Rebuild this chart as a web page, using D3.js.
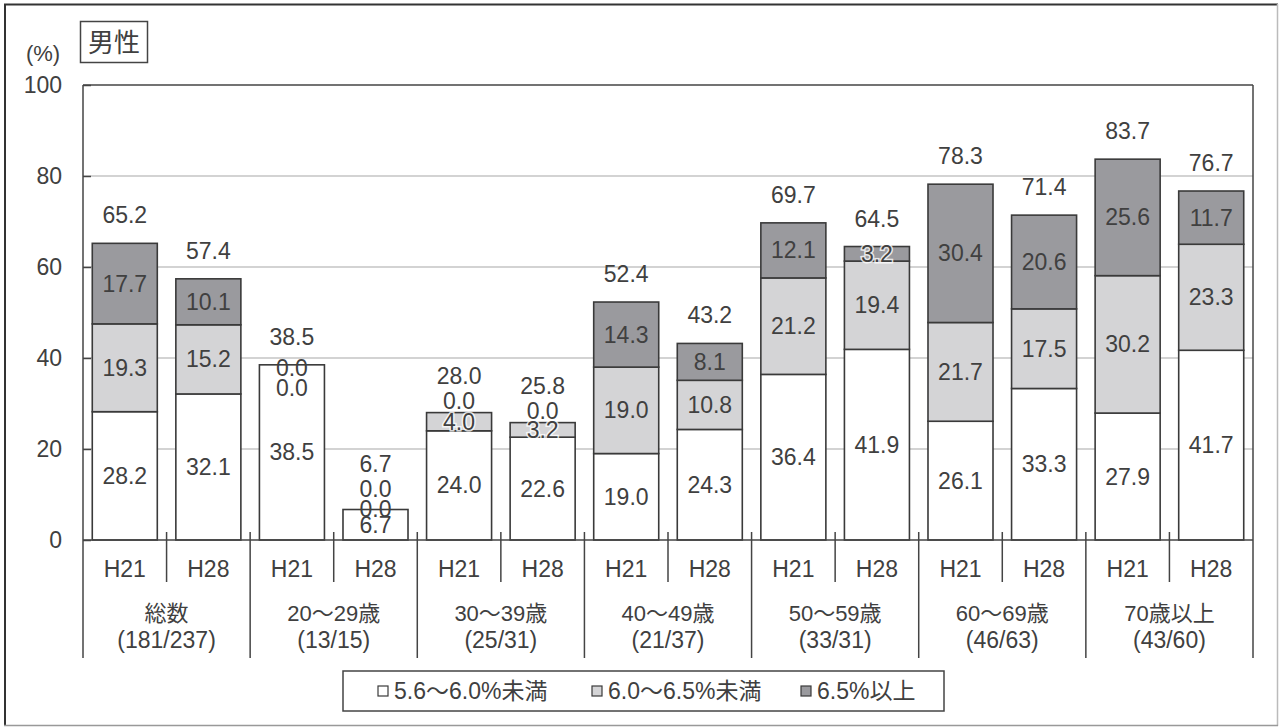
<!DOCTYPE html>
<html><head><meta charset="utf-8">
<script src="https://cdn.jsdelivr.net/npm/d3@7"></script>
<style>
html,body{margin:0;padding:0;background:#fff;}
svg text{font-family:"Liberation Sans",Arial,"Noto Sans CJK JP",sans-serif;fill:#404040;}
</style></head>
<body>
<svg id="chart" width="1279" height="727"></svg>
<script>
const groups = ["総数","20～29歳","30～39歳","40～49歳","50～59歳","60～69歳","70歳以上"];
const groupN = ["(181/237)","(13/15)","(25/31)","(21/37)","(33/31)","(46/63)","(43/60)"];
const years = ["H21","H28"];
const seriesNames = ["5.6～6.0%未満","6.0～6.5%未満","6.5%以上"];
const low  = [28.2,32.1,38.5,6.7,24.0,22.6,19.0,24.3,36.4,41.9,26.1,33.3,27.9,41.7];
const mid  = [19.3,15.2,0.0,0.0,4.0,3.2,19.0,10.8,21.2,19.4,21.7,17.5,30.2,23.3];
const high = [17.7,10.1,0.0,0.0,0.0,0.0,14.3,8.1,12.1,3.2,30.4,20.6,25.6,11.7];
const totals = [65.2,57.4,38.5,6.7,28.0,25.8,52.4,43.2,69.7,64.5,78.3,71.4,83.7,76.7];
const yTicks = [0,20,40,60,80,100];

const colors = ["#ffffff","#d4d4d6","#9a9a9e"];
const ink = "#404040";
const FS = 23;

const svg = d3.select("#chart");
const L = 83, R = 1253, T = 85, B = 540;

// outer frame
svg.append("line").attr("x1",4).attr("x2",1278).attr("y1",4.5).attr("y2",4.5).attr("stroke","#333").attr("stroke-width",2);
svg.append("line").attr("x1",5).attr("x2",5).attr("y1",4).attr("y2",726).attr("stroke","#333").attr("stroke-width",2);
svg.append("line").attr("x1",1277.5).attr("x2",1277.5).attr("y1",4).attr("y2",726).attr("stroke","#bbb").attr("stroke-width",1.5);
svg.append("line").attr("x1",4).attr("x2",1278).attr("y1",725.5).attr("y2",725.5).attr("stroke","#999").attr("stroke-width",1.5);

const rows = low.map((v,i)=>({idx:i, low:v, mid:mid[i], high:high[i], total:totals[i],
  year: years[i%2], group: groups[Math.floor(i/2)]}));
const keys = ["low","mid","high"];
const stacked = d3.stack().keys(keys)(rows);

const x = d3.scaleBand().domain(rows.map(d=>d.idx)).range([L,R]).paddingInner(0.222).paddingOuter(0.111);
const y = d3.scaleLinear().domain([0,100]).range([B,T]);

// gridlines
svg.append("g").selectAll("line").data(yTicks.filter(t=>t>0&&t<100)).join("line")
  .attr("x1",L).attr("x2",R).attr("y1",d=>y(d)).attr("y2",d=>y(d))
  .attr("stroke","#c4c4c4").attr("stroke-width",1.5);

// plot frame (top & right lines)
svg.append("line").attr("x1",L).attr("x2",R).attr("y1",T).attr("y2",T).attr("stroke","#444").attr("stroke-width",1.5);
svg.append("line").attr("x1",R).attr("x2",R).attr("y1",T).attr("y2",658).attr("stroke","#444").attr("stroke-width",1.5);

// y axis
const yAxis = d3.axisLeft(y).tickValues(yTicks).tickSize(-8).tickPadding(20).tickFormat(d3.format("d"));
const gy = svg.append("g").attr("transform",`translate(${L},0)`).call(yAxis);
gy.select(".domain").attr("stroke","#444").attr("stroke-width",1.5).attr("d",`M0,${T}V658`);
gy.selectAll(".tick line").attr("stroke","#444").attr("stroke-width",1.5);
gy.selectAll(".tick text").attr("font-size",FS).attr("fill",ink).attr("x",-21)
  .style("font-family",'"Liberation Sans",Arial,sans-serif');

svg.append("text").attr("x",43).attr("y",61).attr("text-anchor","middle").attr("font-size",22).text("(%)");

// title box
svg.append("rect").attr("x",80.5).attr("y",21.5).attr("width",67).attr("height",41).attr("fill","none").attr("stroke","#444").attr("stroke-width",1.5);
svg.append("text").attr("x",114).attr("y",52).attr("text-anchor","middle").attr("font-size",26)
  .style("font-family",'"Noto Sans CJK JP",sans-serif').text("男性");

// bars
const gBars = svg.append("g");
stacked.forEach((layer,k)=>{
  gBars.append("g").selectAll("rect").data(layer).join("rect")
    .attr("x",d=>x(d.data.idx)).attr("width",x.bandwidth())
    .attr("y",d=>y(d[1])).attr("height",d=>Math.max(0,y(d[0])-y(d[1])))
    .attr("fill",colors[k]).attr("stroke","#3a3a3a").attr("stroke-width",1.6);
});

// x axis line
svg.append("line").attr("x1",L).attr("x2",R).attr("y1",B).attr("y2",B).attr("stroke","#444").attr("stroke-width",1.5);

// x separators
const step = x.step();
rows.forEach((d,i)=>{
  if(i===0) return;
  const xx = x(d.idx) - step*0.111;
  const isGroup = i%2===0;
  svg.append("line").attr("x1",xx).attr("x2",xx).attr("y1",532).attr("y2",isGroup?658:582)
    .attr("stroke","#444").attr("stroke-width",1.5);
});

// year labels
svg.append("g").selectAll("text").data(rows).join("text")
  .attr("x",d=>x(d.idx)+x.bandwidth()/2).attr("y",577).attr("text-anchor","middle")
  .attr("font-size",FS).text(d=>d.year);

// group labels
groups.forEach((g,gi)=>{
  const cx = (x(gi*2) + x(gi*2+1) + x.bandwidth())/2;
  svg.append("text").attr("x",cx).attr("y",621).attr("text-anchor","middle").attr("font-size",22).text(g);
  svg.append("text").attr("x",cx).attr("y",648).attr("text-anchor","middle").attr("font-size",FS).text(groupN[gi]);
});

// value labels
const fmt = d3.format(".1f");
const gLab = svg.append("g");
rows.forEach((d,i)=>{
  const cx = x(d.idx)+x.bandwidth()/2;
  let cum = 0;
  const top = y(d.low+d.mid+d.high);
  const zeros = keys.filter(k=>d[k]===0);
  const tall = (d.low+d.mid+d.high) > 20;
  let zi = 0;
  keys.forEach((k,ki)=>{
    const v = d[k];
    let cy;
    if(v===0){
      if(zeros.length===2){
        cy = tall ? top + 3 + zi*20 : top - 1 - zi*20;
      } else {
        cy = top - 12;
      }
      zi++;
    } else {
      cy = y(cum + v/2);
    }
    cum += v;
    const thin = v>0 && (y(cum-v)-y(cum)) < 20;
    const t = gLab.append("text").attr("x",cx).attr("y",cy).attr("dy","0.35em")
      .attr("text-anchor","middle").attr("font-size",FS).text(fmt(v));
    if(thin){
      t.attr("stroke","#fff").attr("stroke-width",3).attr("paint-order","stroke").attr("stroke-opacity",0.8);
    }
  });
  let off = 28;
  if(zeros.length===2 && !tall) off = 46;
  else if(zeros.length===1) off = 37;
  gLab.append("text").attr("x",cx).attr("y",top-off).attr("dy","0.35em")
    .attr("text-anchor","middle").attr("font-size",FS).text(fmt(d.total));
});

// legend
const lg = svg.append("g");
lg.append("rect").attr("x",343).attr("y",671).attr("width",601).attr("height",40)
  .attr("fill","#fff").attr("stroke","#444").attr("stroke-width",1.5);
const legX = [378,592,801];
seriesNames.forEach((s,i)=>{
  lg.append("rect").attr("x",legX[i]).attr("y",686).attr("width",10).attr("height",10)
    .attr("fill",colors[i]).attr("stroke","#3a3a3a").attr("stroke-width",1.2);
  lg.append("text").attr("x",legX[i]+16).attr("y",699).attr("font-size",FS).text(s);
});
</script>
</body></html>
